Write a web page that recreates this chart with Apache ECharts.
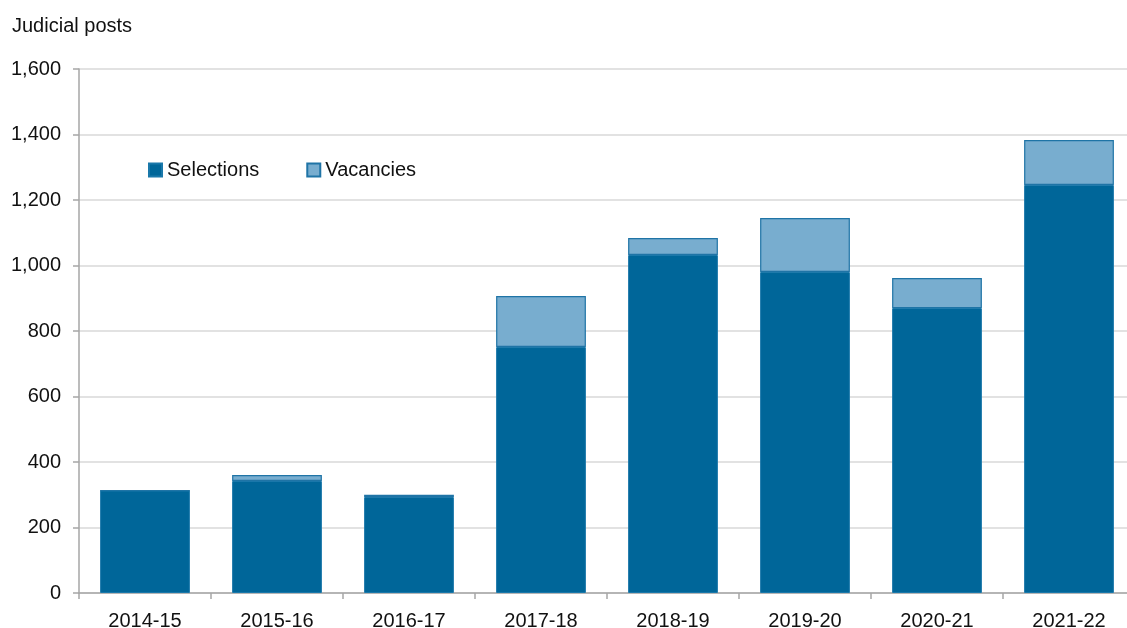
<!DOCTYPE html>
<html>
<head>
<meta charset="utf-8">
<script src="https://cdn.jsdelivr.net/npm/echarts@6/dist/echarts.min.js"></script>
<style>
  html, body { margin: 0; padding: 0; background: #fff; }
  #chart { width: 1127px; height: 628px; }
</style>
</head>
<body>
<div id="chart"></div>
<script>
// Judicial posts by year: selections made plus remaining vacancies (stacked)
const years = ['2014-15', '2015-16', '2016-17', '2017-18', '2018-19', '2019-20', '2020-21', '2021-22'];
const selections = [313, 342, 293, 751, 1032, 980, 870, 1246];
const vacancies = [0, 18, 7, 156, 52, 165, 92, 137];
const yTicks = { min: 0, max: 1600, interval: 200 };

const FONT = '"Liberation Sans", Arial, sans-serif';
const chart = echarts.init(document.getElementById('chart'), null, { renderer: 'canvas' });

chart.setOption({
  animation: false,
  textStyle: { fontFamily: FONT },
  title: {
    text: 'Judicial posts',
    left: 7, top: 11,
    textStyle: { fontFamily: FONT, fontSize: 20, fontWeight: 'normal', color: '#111' }
  },
  legend: {
    left: 143, top: 155,
    icon: 'rect',
    itemWidth: 13, itemHeight: 13,
    itemGap: 47,
    textStyle: { fontFamily: FONT, fontSize: 20, color: '#111' },
    data: ['Selections', 'Vacancies']
  },
  // the last category band runs past the right edge of the canvas
  grid: {
    left: 79, width: 1056, top: 69, bottom: 35,
    containLabel: false,
    outerBoundsMode: 'none'
  },
  xAxis: {
    type: 'category',
    data: years,
    axisLine: { lineStyle: { color: '#a6a6a6', width: 1.5 } },
    axisTick: { show: true, length: 6, lineStyle: { color: '#a6a6a6', width: 1.5 } },
    axisLabel: { fontFamily: FONT, fontSize: 20, color: '#111', margin: 18 }
  },
  yAxis: {
    type: 'value',
    min: yTicks.min, max: yTicks.max, interval: yTicks.interval,
    axisLine: { show: true, lineStyle: { color: '#a6a6a6', width: 1.5 } },
    axisTick: { show: true, length: 6, lineStyle: { color: '#a6a6a6', width: 1.5 } },
    splitLine: { lineStyle: { color: '#d9d9d9', width: 1.5 } },
    axisLabel: {
      fontFamily: FONT, fontSize: 20, color: '#111', margin: 18,
      formatter: v => v.toLocaleString('en-GB')
    }
  },
  series: [
    {
      name: 'Selections',
      type: 'bar',
      stack: 'posts',
      barWidth: '68%',
      data: selections,
      itemStyle: { color: '#006699', borderColor: '#1a78aa', borderWidth: 1 }
    },
    {
      name: 'Vacancies',
      type: 'bar',
      stack: 'posts',
      barWidth: '68%',
      data: vacancies,
      itemStyle: { color: '#78adcf', borderColor: '#1f74a6', borderWidth: 1.2 }
    }
  ]
});
</script>
</body>
</html>
